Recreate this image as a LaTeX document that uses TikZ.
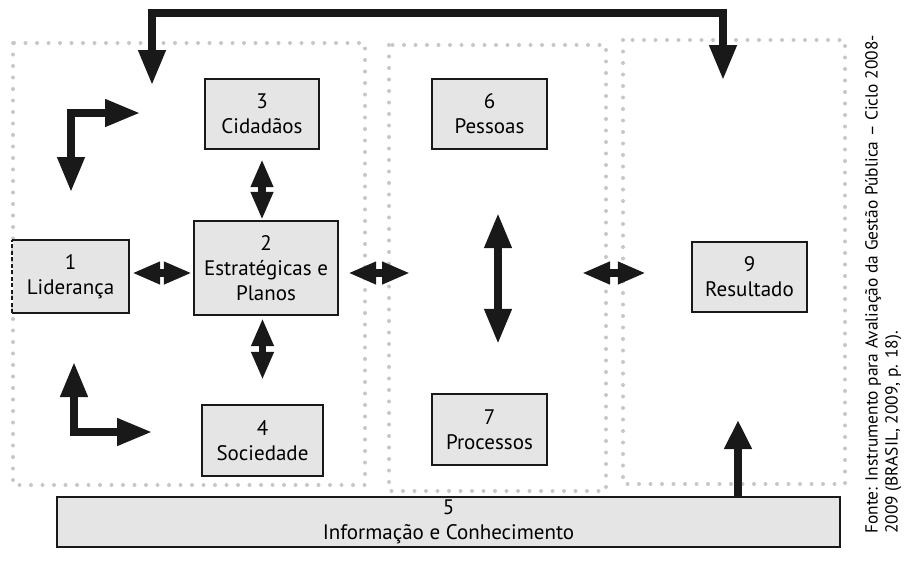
\documentclass[tikz,border=0pt]{standalone}
\usepackage{fontspec}
\setmainfont{PT Sans}
\usepackage{tikz}
\usetikzlibrary{arrows.meta,positioning,calc}

\begin{document}
\begin{tikzpicture}[x=1pt,y=-1pt,every node/.style={align=center},
  box/.style={draw=black!90,line width=2.4pt,fill=black!10,inner sep=0pt,font=\fontsize{21}{25}\selectfont},
  region/.style={draw=black!22,line width=4pt,line cap=round,dash pattern=on 0pt off 11.5pt},
  flow/.style={draw=black!90,line width=7.5pt,line join=miter},
  small/.style={flow,{Triangle[length=28pt,width=21pt]}-{Triangle[length=28pt,width=21pt]}},
  big/.style={flow,{Triangle[length=35pt,width=26pt]}-{Triangle[length=35pt,width=26pt]}},
  single/.style={flow,-{Triangle[length=29pt,width=26pt]}}]
  \useasboundingbox (0,0) rectangle (912,560);
  \draw[region] (13,43) rectangle (365,485);
  \draw[region] (389,45) rectangle (606,491);
  \draw[region] (623,40) rectangle (845,484);

  \node[box,draw=none,minimum width=115pt,minimum height=71pt] (b1) at (70.5,276.5) {1\\Liderança};
  \draw[line width=2.4pt,draw=black!90] (b1.north west) -- (b1.north east) -- (b1.south east) -- (b1.south west);
  \draw[line width=2.4pt,draw=black!90,dash pattern=on 4pt off 2.5pt] (b1.south west) -- (b1.north west);
  \node[box,minimum width=144pt,minimum height=94pt] (b2) at (266,268) {2\\Estratégicas e\\Planos};
  \node[box,minimum width=114pt,minimum height=70pt] (b3) at (262,114) {3\\Cidadãos};
  \node[box,minimum width=121pt,minimum height=71pt] (b4) at (262.5,440.5) {4\\Sociedade};
  \node[box,minimum width=783pt,minimum height=50pt] (b5) at (448.5,522) {5\\Informação e Conhecimento};
  \node[box,minimum width=115pt,minimum height=70pt] (b6) at (489.5,114) {6\\Pessoas};
  \node[box,minimum width=115pt,minimum height=71pt] (b7) at (489.5,429.5) {7\\Processos};
  \node[box,minimum width=115pt,minimum height=70pt] (b9) at (749.5,277) {9\\Resultado};

  \coordinate (row) at (0,273);
  \coordinate (m1) at (410,273);
  \coordinate (m2) at (582,273);
  \coordinate (bv) at (498,0);
  \coordinate (up) at (738,420);
  \coordinate (top) at (0,13);
  \coordinate (fbl) at (152,85);
  \coordinate (fbr) at (723,80);
  \coordinate (e1a) at (71,192);
  \coordinate (e1b) at (140,113);
  \coordinate (e2a) at (74,362);
  \coordinate (e2b) at (152,432);

  \draw[small,shorten <=3pt,shorten >=1pt] (b1.east |- row) -- (b2.west |- row);
  \draw[small,shorten <=9pt] (b2.east |- row) -- (m1);
  \draw[small,shorten >=45pt] (m2) -- (b9.west |- row);
  \draw[small,shorten <=9pt] (b3.south) -- (b3.south |- b2.north);
  \draw[small,shorten <=2pt,shorten >=24pt] (b4.north |- b2.south) -- (b4.north);
  \draw[big,shorten <=63pt,shorten >=49pt] (b6.south -| bv) -- (b7.north -| bv);
  \draw[single] (b5.north -| up) -- (up);
  \draw[big] (fbl) -- (fbl |- top) -- (fbr |- top) -- (fbr);
  \draw[big] (e1a) |- (e1b);
  \draw[big] (e2a) |- (e2b);

  \node[rotate=90,anchor=north west,align=left,inner sep=0pt,font=\fontsize{17.4}{20}\selectfont] (src) at (865,534)
    {Fonte: Instrumento para Avaliação da Gestão Pública – Ciclo 2008-\\2009 (BRASIL, 2009, p. 18).};
\end{tikzpicture}
\end{document}
